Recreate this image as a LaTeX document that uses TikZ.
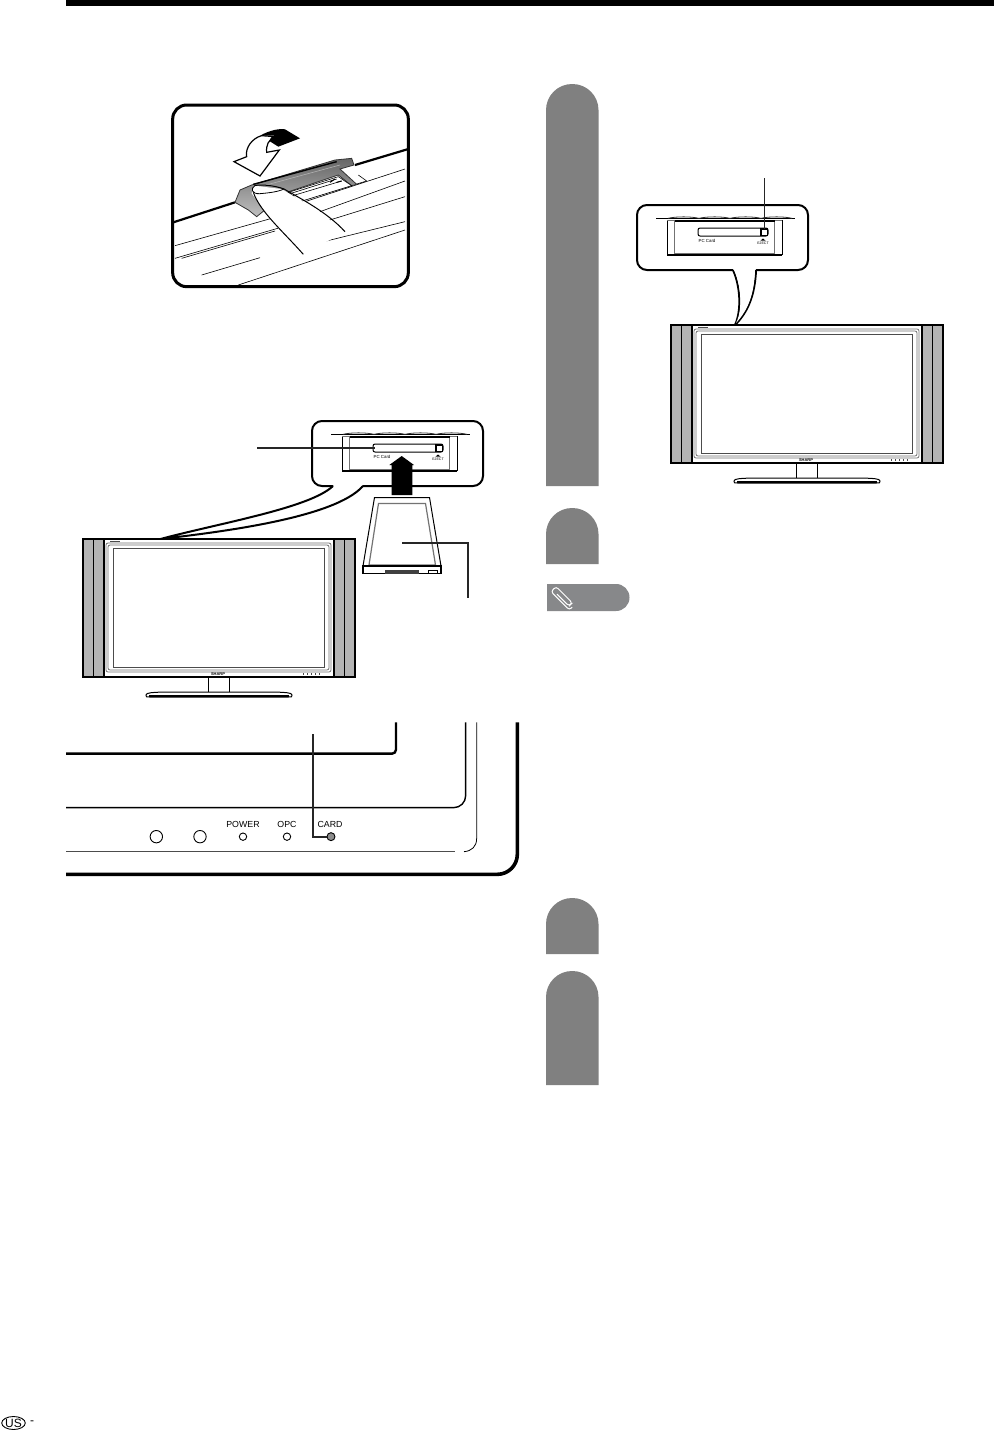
\documentclass[tikz,border=0pt]{standalone}
\usepackage{fontspec}
\setsansfont{Liberation Sans}
\usetikzlibrary{calc,shapes.geometric,positioning}
\definecolor{cTab}{HTML}{808080}
\definecolor{cNote}{HTML}{87888A}
\definecolor{cSpk}{HTML}{B4B4B4}
\tikzset{
  tabfill/.style={fill=cTab},
  callout/.style={draw=black,line width=1pt,rounded corners=5pt,fill=white},
  hair/.style={draw=black,line width=.3pt},
  soft/.style={draw=black!55,line width=.4pt},
  ledr/.style={circle,draw=black,line width=.45pt,fill=white,inner sep=0pt,minimum size=3.7pt},
  btn/.style={circle,draw=black,line width=.45pt,fill=white,inner sep=0pt,minimum size=6.2pt},
  lbl/.style={font=\sffamily\fontsize{4.4}{5}\selectfont,inner sep=0pt},
  tiny/.style={font=\sffamily\fontsize{2.2}{3}\selectfont,inner sep=0pt},
  leader/.style={draw=black!85,line width=.9pt},
  tv/.pic={
    % speakers and cabinet
    \draw[fill=cSpk,line width=.6pt] (0,0) rectangle (21,138);
    \draw[fill=cSpk,line width=.6pt] (251,0) rectangle (272,138);
    \draw[line width=.4pt] (10.5,0) -- (10.5,138) (261.5,0) -- (261.5,138);
    \draw[fill=white,line width=.6pt] (21,0) rectangle (251,138);
    \draw[soft,rounded corners=1pt] (23,4) rectangle (248,133);
    \draw[soft,rounded corners=1pt] (25,6) rectangle (246,131);
    \draw[draw=black!70,line width=.4pt] (30,9) rectangle (241,128);
    \node[inner sep=0pt,font=\sffamily\bfseries\fontsize{2}{2}\selectfont] at (135,134.8) {SHARP};
    \draw[black!70,line width=.3pt] (27,2.2) -- (37,2.2);
    \foreach \mx in {220,224,228,232,236}{\draw[black!70,line width=.3pt] (\mx,134) -- (\mx,136);}
    % stand
    \draw[line width=.45pt] (125,138) -- (125,153) (146,138) -- (146,153);
    \draw[fill=white,line width=.5pt] (63,156) .. controls (63,153.5) and (70,153.5) .. (80,153) -- (192,153) .. controls (202,153.5) and (209,153.5) .. (209,156) .. controls (209,158) .. (205,158) -- (67,158) .. controls (63,158) .. (63,156) -- cycle;
    \draw[line width=.9pt] (66,157.2) -- (206,157.2);
  },
  slotpanel/.pic={
    \draw[callout] (0,0) rectangle (171,65);
    \draw[hair] (19,13.3) -- (158,13.3);
    \foreach \wx in {31,62,93,124}{\draw[black!80,line width=.4pt] (\wx,13.3) .. controls (\wx+8,11.4) and (\wx+23,11.4) .. (\wx+31,13.3);}
    % cavity
    \draw[line width=.35pt] (30,15) -- (30,50) (145,50) -- (145,15);
    \draw[line width=.8pt] (30,50) -- (145,50);
    \draw[soft] (37.5,15) -- (37.5,48.5) -- (137.5,48.5) -- (137.5,15) (30,15) -- (37.5,15) (137.5,15) -- (145,15);
    \draw[line width=.6pt] (37.5,16) -- (137.5,16);
    % card slot
    \draw[fill=white,line width=.5pt,rounded corners=1pt] (61,23) rectangle (131,31);
    \draw[fill=white,line width=.7pt] (124,24) rectangle (130.5,30.5);
    \node[tiny] at (70,36) {PC Card};
    \fill (126,33.5) -- (128.5,35.6) -- (123.5,35.6) -- cycle;
    \node[tiny,font=\sffamily\fontsize{1.8}{3}\selectfont] at (126,38.5) {EJECT};
  },
}
\begin{document}
\begin{tikzpicture}[x=0.5pt,y=-0.5pt]
  \useasboundingbox (0,0) rectangle (994,1430);
  \fill[black] (66,0) rectangle (994,6);
  % step tabs
  \foreach \ty/\by in {84/486,508/564,898/954,971/1085}{
    \fill[tabfill] (546,\by) [rounded corners=13pt] -- (546,\ty) -- (598.5,\ty) [sharp corners] -- (598.5,\by) -- cycle;
  }
  \fill[cNote] (547,584) [rounded corners=6.7pt] -- (629.5,584) -- (629.5,611) [sharp corners] -- (547,611) -- cycle;
  \begin{scope}[shift={(563,598)},rotate=-45]
    \draw[white,line width=.5pt,rounded corners=1.4pt] (-7,1.5) -- (10,1.5) -- (10,-3.2) -- (-13,-3.2) -- (-13,4) -- (13,4) -- (13,0);
  \end{scope}

  % cover picture
  \begin{scope}[shift={(160,95)},scale=1/3]
    \begin{scope}
      \clip (38,30) rectangle (745,575);
      \draw[line width=1.1pt] (40,382) -- (225,322) (585,210) -- (745,162);
      \draw[hair] (45,452) -- (335,370) (435,320) -- (735,222);
      \draw[hair] (45,490) -- (370,395) (480,350) -- (735,258);
      \draw[hair] (65,490) -- (345,408);
      \draw[hair] (500,378) -- (735,305);
      \draw[hair] (125,540) -- (300,488);
      \draw[hair] (430,455) -- (735,380);
      \draw[hair] (235,570) -- (735,405);
      \draw[hair] (595,240) -- (620,258) -- (415,320);
    \end{scope}
    % lid
    \shade[top color=black!60,bottom color=black!25,draw=black!80,line width=.4pt] (225,322) -- (240,285) -- (275,270) -- (525,195) -- (575,190) -- (582,210) -- (540,222) -- (590,268) -- (575,272) -- (535,240) -- (380,292) -- (290,365) -- (265,345) -- cycle;
    \draw[fill=white,line width=.3pt] (385,292) -- (535,245) -- (575,272) -- (420,320) -- cycle;
    \draw[line width=.3pt] (390,296) -- (530,252) (395,303) -- (545,258);
    \draw[line width=.5pt] (510,262) -- (525,252) (530,262) -- (545,258);
    \draw[line width=.7pt] (280,268) -- (530,200);
    \draw[black!30,line width=.3pt] (300,275) -- (540,210);
    % finger
    \draw[fill=white,draw=none] (283,272) -- (365,282) -- (470,345) -- (555,410) -- (430,478) -- (340,385) -- (275,295) -- cycle;
    \draw[line width=.5pt] (283,272) .. controls (300,268) and (340,270) .. (372,282) .. controls (420,310) and (500,350) .. (555,410);
    \draw[line width=.5pt] (280,292) .. controls (300,350) and (370,410) .. (430,478);
    \draw[line width=.4pt] (285,272) .. controls (270,280) and (275,298) .. (300,296) .. controls (320,294) and (350,292) .. (372,282);
    % curved arrow
    \draw[fill=white,line width=.6pt] (222,200) -- (300,243) -- (358,165) -- (320,172) .. controls (318,150) and (325,135) .. (345,125) -- (305,122) .. controls (275,130) and (255,160) .. (260,185) -- cycle;
    \fill[black] (300,122) .. controls (330,105) and (360,100) .. (375,103) -- (420,130) -- (355,155) -- (328,138) .. controls (328,130) and (335,125) .. (345,122) -- cycle;
    \draw[callout,fill=none,line width=1.5pt,rounded corners=7pt] (38,30) rectangle (745,575);
  \end{scope}

  % slot callout left
  \coordinate (tipl) at (160.5,539);
  \pic at (312,421) {slotpanel};
  \fill[white] (334,486) -- (362,486) -- (362,482) -- (334,482) -- cycle;
  \fill[white] (334,485) .. controls (300,510) and (220,525) .. (tipl) .. controls (220,530) and (330,515) .. (363,485) -- cycle;
  \draw[line width=1pt] (333,486) .. controls (310,508) and (220,523) .. (tipl) .. controls (220,532) and (335,518) .. (363,486);
  \pic at (83,539) {tv};
  \coordinate (slotend) at (375,448);
  \coordinate (slotlead) at (257,448);
  \draw[leader] (slotlead) -- (slotend);
  % insert arrow
  \fill[black] (401.7,456) -- (414,465) -- (412.3,465) -- (412.3,495) -- (391.7,495) -- (391.7,465) -- (389.3,465) -- cycle;
  % card
  \draw[fill=white,line width=.5pt] (374.5,497.5) -- (429.5,497.5) -- (441,566) -- (363,566) -- cycle;
  \draw[soft,line width=.6pt] (378.5,503.5) -- (425.5,503.5) -- (435.5,565) -- (369,565) -- cycle;
  \draw[fill=white,line width=.6pt] (363,566) rectangle (441,573.5);
  \fill[black!75] (385,570) rectangle (418.5,573.5);
  \draw[line width=.4pt] (428.5,570) rectangle (437.5,573.5);
  \coordinate (cardin) at (402,543);
  \coordinate (cardlead) at (468,598);
  \draw[leader] (cardin) -| (cardlead);

  % slot callout right
  \pic at (637,205) {slotpanel};
  \fill[white] (733,268) rectangle (756,272);
  \draw[line width=1pt] (733,270) .. controls (740,285) and (742,310) .. (735,325);
  \draw[line width=1pt] (756,270) .. controls (755,295) and (748,312) .. (735,325);
  \fill[white] (734,270) .. controls (741,285) and (743,310) .. (736,323) .. controls (748,310) and (754,295) .. (755,270) -- cycle;
  \pic at (671,325) {tv};
  \coordinate (ejtop) at (764.5,178);
  \coordinate (ejbtn) at (764.5,229);
  \draw[leader] (ejtop) -- (ejbtn);

  % front panel detail
  \begin{scope}[shift={(60,715)},scale=1/3]
    \draw[line width=1.2pt,rounded corners=2pt] (18,116) -- (1008,116) -- (1008,22);
    \draw[line width=.7pt,rounded corners=6pt] (18,278) -- (1217,278) -- (1217,22);
    \draw[black!70,line width=.5pt] (18,410) -- (1185,410);
    \draw[line width=.4pt] (1212,410) .. controls (1235,408) and (1250,395) .. (1250,370) -- (1250,22);
    \draw[line width=1.8pt,rounded corners=10pt] (18,478) -- (1372,478) -- (1372,22);
    \node[btn] (btna) at (289,365) {};
    \node[btn] (btnb) at (420,365) {};
    \node[ledr] (ledpow) at (549,365) {};
    \node[ledr] (ledopc) at (681,365) {};
    \node[ledr,fill=black!45,minimum size=4pt] (ledcard) at (813,365) {};
    \node[lbl] (lblpow) at (549,327) {POWER};
    \node[lbl] (lblopc) at (681,327) {OPC};
    \node[lbl] (lblcard) at (810,327) {CARD};
    \coordinate (cardtop) at (758,57);
    \draw[leader] (cardtop) |- (ledcard);
  \end{scope}

  % page mark
  \node[ellipse,draw=black,line width=.45pt,inner sep=0pt,minimum width=11.5pt,minimum height=6.5pt,font=\sffamily\fontsize{6}{6}\selectfont] (usmark) at (13.5,1423) {US};
  \node[right=2pt of usmark,inner sep=0pt,font=\sffamily\fontsize{6}{6}\selectfont] (usdash) {-};
\end{tikzpicture}
\end{document}
